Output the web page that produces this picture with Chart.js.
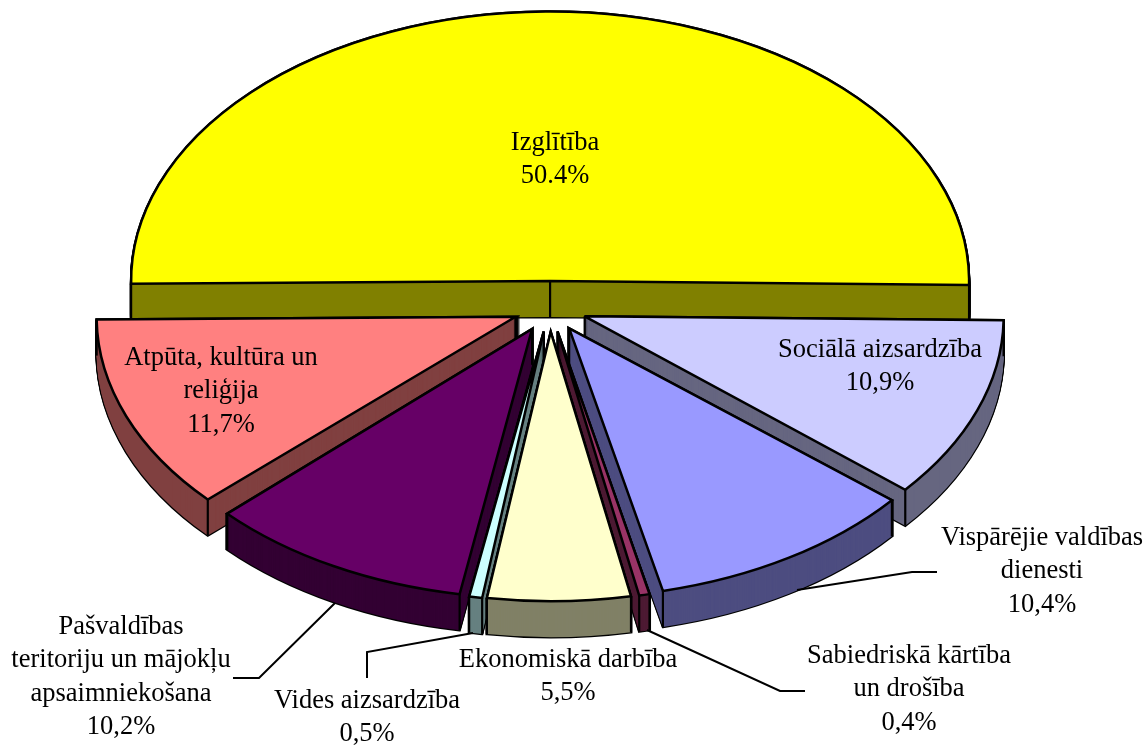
<!DOCTYPE html>
<html>
<head>
<meta charset="utf-8">
<style>html,body{margin:0;padding:0;background:#fff}canvas{display:block}</style>
<script src="https://cdn.jsdelivr.net/npm/chart.js@4/dist/chart.umd.min.js"></script>
</head>
<body>
<canvas id="c" width="1147" height="746"></canvas>
<script>
const categories = ["Izglītība","Sociālā aizsardzība","Vispārējie valdības dienesti","Sabiedriskā kārtība un drošība","Ekonomiskā darbība","Vides aizsardzība","Pašvaldības teritoriju un mājokļu apsaimniekošana","Atpūta, kultūra un reliģija"];
const values = [50.4,10.9,10.4,0.4,5.5,0.5,10.2,11.7];
const valueLabels = ["50.4%","10,9%","10,4%","0,4%","5,5%","0,5%","10,2%","11,7%"];
const nameLines = [["Izglītība"],["Sociālā aizsardzība"],["Vispārējie valdības","dienesti"],["Sabiedriskā kārtība","un drošība"],["Ekonomiskā darbība"],["Vides aizsardzība"],["Pašvaldības","teritoriju un mājokļu","apsaimniekošana"],["Atpūta, kultūra un","reliģija"]];
const topColors = ["#FFFF00","#CCCCFF","#9999FF","#993366","#FFFFCC","#CCFFFF","#660066","#FF8080"];
const sideColors = ["#808000","#666680","#4D4D80","#4D1A33","#808066","#668080","#330033","#804040"];
const explode = [42,37,37,37,37,37,37,37];
const angleNudge = [0,0,-0.45,-0.2,0,-0.3,-0.6,0];
const labelAnchors = [[555,143],[880,350],[1042,538],[909,656],[568,660],[367,701],[121,627],[221,358]];
const leaders = [null,null,[[797,590],[912,572],[937,572]],[[647,630],[780,691],[805,691]],null,[[473,633],[367,652],[367,678]],[[335,603],[259,678],[233,678]],null];
const drawOrder = [0,1,7,2,6,3,5,4];
const TILT = 0.643, DEPTH = 36, LINE_H = 33.5;

function geom(a,i,off,dy){
  const n=angleNudge[i]*Math.PI/180;
  const s=a.startAngle+n, e=a.endAngle+n, mid=(a.startAngle+a.endAngle)/2;
  return {s,e,r:a.outerRadius,ox:a.x+Math.cos(mid)*off,oy:a.y+Math.sin(mid)*off*TILT+dy};
}
function slicePath(ctx,a,i,off,dy){
  const g=geom(a,i,off,dy);
  ctx.beginPath();
  ctx.moveTo(g.ox,g.oy);
  ctx.ellipse(g.ox,g.oy,g.r,g.r*TILT,0,g.s,g.e);
  ctx.closePath();
  return g;
}
const pie3d={
  id:'pie3d',
  beforeDatasetsDraw(chart){
    const ctx=chart.ctx, arcs=chart.getDatasetMeta(0).data;
    ctx.save();
    ctx.lineJoin='miter';ctx.miterLimit=4;
    drawOrder.forEach(i=>{
      const a=arcs[i], off=explode[i];
      ctx.strokeStyle='#000';ctx.lineWidth=2.5;
      for(let d=DEPTH;d>=0;d-=1){slicePath(ctx,a,i,off,d);ctx.stroke();}
      ctx.fillStyle=sideColors[i];
      for(let d=DEPTH;d>=1;d-=1){slicePath(ctx,a,i,off,d);ctx.fill();}
      const g=slicePath(ctx,a,i,off,0);
      ctx.lineWidth=2.2;
      [g.s,g.e].forEach(t=>{
        const px=g.ox+Math.cos(t)*g.r, py=g.oy+Math.sin(t)*g.r*TILT;
        ctx.beginPath();ctx.moveTo(px,py);ctx.lineTo(px,py+DEPTH);ctx.stroke();
      });
      ctx.beginPath();ctx.moveTo(g.ox,g.oy);ctx.lineTo(g.ox,g.oy+DEPTH);ctx.stroke();
      slicePath(ctx,a,i,off,0);
      ctx.fillStyle=topColors[i];ctx.fill();
      ctx.lineWidth=2.5;ctx.stroke();
    });
    ctx.strokeStyle='#000';ctx.lineWidth=2;
    leaders.forEach(l=>{
      if(!l)return;
      ctx.beginPath();ctx.moveTo(l[0][0],l[0][1]);
      l.slice(1).forEach(p=>ctx.lineTo(p[0],p[1]));
      ctx.stroke();
    });
    ctx.fillStyle='#000';
    ctx.font='26.5px "Liberation Serif"';
    ctx.textAlign='center';ctx.textBaseline='middle';
    categories.forEach((c,i)=>{
      const lines=nameLines[i].concat([valueLabels[i]]);
      lines.forEach((t,j)=>ctx.fillText(t,labelAnchors[i][0],labelAnchors[i][1]+j*LINE_H));
    });
    ctx.restore();
    return false;
  }
};
new Chart(document.getElementById('c'),{
  type:'pie',
  data:{labels:categories,datasets:[{data:values,backgroundColor:topColors,borderColor:'#000',borderWidth:2}]},
  options:{
    responsive:false,animation:false,
    rotation:269.4,radius:419,
    layout:{padding:{left:0,right:47,top:0,bottom:130}},
    plugins:{legend:{display:false},tooltip:{enabled:false}}
  },
  plugins:[pie3d]
});
</script>
</body>
</html>
